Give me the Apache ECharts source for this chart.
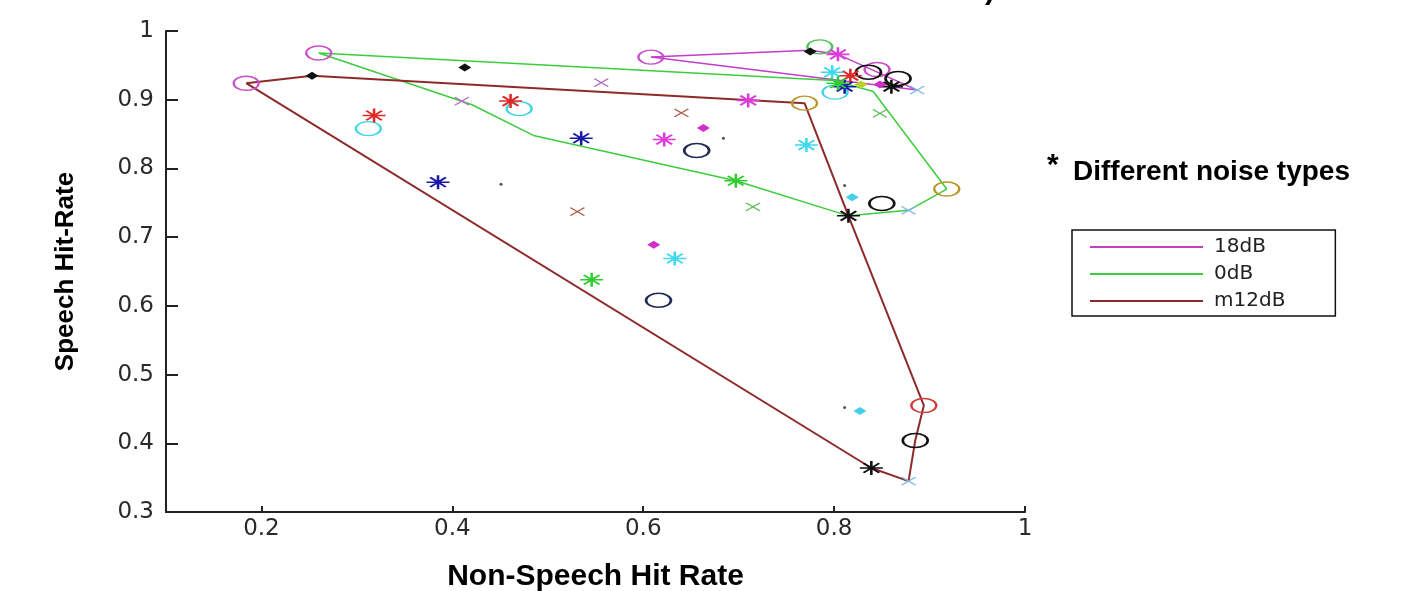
<!DOCTYPE html>
<html>
<head>
<meta charset="utf-8">
<script src="https://cdn.jsdelivr.net/npm/echarts@6/dist/echarts.min.js"></script>
<style>html,body{margin:0;padding:0;background:#fff}#c{width:1412px;height:591px}</style>
</head>
<body>
<div id="c"></div>
<script>
// ---- tick labels ----
const xTicks = [0.2, 0.4, 0.6, 0.8, 1];
const yTicks = [0.3, 0.4, 0.5, 0.6, 0.7, 0.8, 0.9, 1];

// ---- hull lines (series in legend) ----
const lineNames = ['18dB', '0dB', 'm12dB'];
const hull18dB = [[0.608,0.962],[0.775,0.972],[0.804,0.966],[0.887,0.914],[0.608,0.962]];
const hull0dB = [[0.26,0.968],[0.80,0.928],[0.841,0.912],[0.918,0.770],[0.878,0.739],[0.815,0.731],[0.697,0.782],[0.485,0.848],[0.42,0.893],[0.26,0.968]];
const hullM12dB = [[0.184,0.924],[0.253,0.935],[0.769,0.895],[0.815,0.731],[0.894,0.455],[0.885,0.404],[0.878,0.345],[0.839,0.364],[0.184,0.924]];

// ---- individual points (noise types) ----
const circMagenta = [[0.184,0.924],[0.26,0.968],[0.608,0.962],[0.845,0.944]];
const circCyan = [[0.312,0.858],[0.470,0.887],[0.801,0.911]];
const circNavy = [[0.656,0.826],[0.616,0.608]];
const circBlack = [[0.836,0.940],[0.867,0.931],[0.850,0.749],[0.885,0.404]];
const circOlive = [[0.769,0.895],[0.918,0.770]];
const circRed = [[0.894,0.455]];
const circGreen = [[0.785,0.977]];
const starRed = [[0.318,0.877],[0.461,0.898],[0.817,0.935]];
const starBlue = [[0.385,0.780],[0.535,0.844],[0.811,0.919]];
const starMagenta = [[0.622,0.842],[0.710,0.899],[0.804,0.966]];
const starCyan = [[0.633,0.669],[0.771,0.834],[0.798,0.940]];
const starGreen = [[0.546,0.638],[0.697,0.782],[0.804,0.924]];
const starBlack = [[0.815,0.731],[0.839,0.364],[0.860,0.919]];
const diaBlack = [[0.253,0.935],[0.413,0.947],[0.775,0.970]];
const diaMagenta = [[0.663,0.859],[0.611,0.689],[0.848,0.922]];
const diaCyan = [[0.819,0.758],[0.827,0.447]];
const diaYellow = [[0.828,0.922]];
const crossPurple = [[0.410,0.898],[0.556,0.925]];
const crossBrown = [[0.531,0.737],[0.640,0.881]];
const crossGreen = [[0.715,0.744],[0.848,0.880]];
const crossCyan = [[0.878,0.739],[0.878,0.345],[0.887,0.914]];
const dotsGray = [[0.451,0.777],[0.684,0.844],[0.811,0.775],[0.811,0.452]];

const ELLIPSE = 'path://M0,5 A5,5 0 1 1 10,5 A5,5 0 1 1 0,5 Z';
const STAR = 'path://M0,5L10,5M5,0L5,10M1.6,1.6L8.4,8.4M8.4,1.6L1.6,8.4';
const CROSS = 'path://M0,0L10,10M10,0L0,10';

function outline(name, data, sym, size, color, bw) {
  return {
    name: name, type: 'scatter', data: data, symbol: sym, symbolSize: size,
    symbolKeepAspect: false, z: 3, silent: true,
    itemStyle: { color: 'rgba(0,0,0,0)', borderColor: color, borderWidth: bw, opacity: 1 }
  };
}
function stroked(name, data, sym, size, color, bw) {
  return {
    name: name, type: 'scatter', data: data, symbol: sym, symbolSize: size,
    symbolKeepAspect: false, z: 3, silent: true,
    itemStyle: { color: color, borderColor: color, borderWidth: bw, opacity: 1 }
  };
}
function filled(name, data, sym, size, color) {
  return {
    name: name, type: 'scatter', data: data, symbol: sym, symbolSize: size,
    z: 3, silent: true, itemStyle: { color: color, opacity: 1 }
  };
}
function hull(name, data, color, w) {
  return {
    name: name, type: 'line', data: data, color: color, symbol: 'none', z: 2,
    lineStyle: { color: color, width: w }, silent: true, animation: false
  };
}

const CSZ = [25, 14], SSZ = [23, 14], XSZ = [14, 8], DSZ = [13, 8];

const chart = echarts.init(document.getElementById('c'), null, { renderer: 'canvas' });
chart.setOption({
  animation: false,
  backgroundColor: '#ffffff',
  grid: { left: 166, right: 387, top: 31, bottom: 79, containLabel: false, outerBoundsMode: 'none' },
  xAxis: {
    type: 'value', min: 0.1, max: 1,
    name: 'Non-Speech Hit Rate', nameLocation: 'middle', nameGap: 50,
    nameTextStyle: { fontFamily: 'Liberation Sans', fontWeight: 'bold', fontSize: 30, color: '#000' },
    axisLine: { show: true, onZero: false, lineStyle: { color: '#222', width: 2 } },
    axisTick: { show: true, inside: true, length: 6, customValues: xTicks, lineStyle: { color: '#222', width: 2 } },
    axisLabel: { customValues: xTicks, margin: 6, fontFamily: 'DejaVu Sans', fontSize: 23, color: '#2a2a2a',
      formatter: v => String(parseFloat(Number(v).toFixed(1))) },
    splitLine: { show: false }
  },
  yAxis: {
    type: 'value', min: yTicks[0], max: yTicks[yTicks.length - 1], interval: 0.1,
    name: 'Speech Hit-Rate', nameLocation: 'middle', nameGap: 87, nameRotate: 90,
    nameTextStyle: { fontFamily: 'Liberation Sans', fontWeight: 'bold', fontSize: 26, color: '#000' },
    axisLine: { show: true, onZero: false, lineStyle: { color: '#222', width: 2 } },
    axisTick: { show: true, inside: true, length: 12, lineStyle: { color: '#222', width: 2 } },
    axisLabel: { margin: 12, fontFamily: 'DejaVu Sans', fontSize: 23, color: '#2a2a2a',
      formatter: v => String(parseFloat(Number(v).toFixed(1))) },
    splitLine: { show: false }
  },
  legend: {
    data: lineNames, orient: 'vertical', left: 1072, top: 230,
    icon: 'rect', itemWidth: 113, itemHeight: 2, itemGap: 7,
    padding: [7, 50, 5, 18], borderColor: '#111', borderWidth: 1.5, backgroundColor: '#fff',
    selectedMode: false,
    textStyle: { fontFamily: 'DejaVu Sans', fontSize: 20, lineHeight: 20, color: '#222', padding: [0, 0, 0, 6] }
  },
  graphic: [
    { type: 'text', left: 1047, top: 151, style: { text: '*', font: 'bold 30px "Liberation Sans"', fill: '#000' } },
    { type: 'text', left: 1073, top: 158, style: { text: 'Different noise types', font: 'bold 28px "Liberation Sans"', fill: '#000' } },
    { type: 'text', left: 985, top: -24, style: { text: ')', font: 'bold 30px "Liberation Sans"', fill: '#000' } }
  ],
  series: [
    hull(lineNames[0], hull18dB, '#c43cc8', 1.5),
    hull(lineNames[1], hull0dB, '#3ccc3c', 1.5),
    hull(lineNames[2], hullM12dB, '#8e2a2a', 2),
    outline('o-m', circMagenta, ELLIPSE, CSZ, '#c850c8', 1.8),
    outline('o-c', circCyan, ELLIPSE, CSZ, '#40d4e4', 1.8),
    outline('o-n', circNavy, ELLIPSE, CSZ, '#202a55', 2),
    outline('o-k', circBlack, ELLIPSE, CSZ, '#111111', 2),
    outline('o-o', circOlive, ELLIPSE, CSZ, '#b8962a', 1.8),
    outline('o-r', circRed, ELLIPSE, CSZ, '#d03a3a', 1.8),
    outline('o-g', circGreen, ELLIPSE, CSZ, '#50c050', 1.8),
    stroked('*-r', starRed, STAR, SSZ, '#e02828', 2),
    stroked('*-b', starBlue, STAR, SSZ, '#1a1aa8', 2),
    stroked('*-m', starMagenta, STAR, SSZ, '#dc3cdc', 2),
    stroked('*-c', starCyan, STAR, SSZ, '#40d8ec', 2),
    stroked('*-g', starGreen, STAR, SSZ, '#30cc30', 2),
    stroked('*-k', starBlack, STAR, SSZ, '#111111', 2),
    filled('d-k', diaBlack, 'diamond', DSZ, '#111111'),
    filled('d-m', diaMagenta, 'diamond', DSZ, '#d030c8'),
    filled('d-c', diaCyan, 'diamond', DSZ, '#40d0e8'),
    filled('d-y', diaYellow, 'diamond', DSZ, '#b8d030'),
    stroked('x-p', crossPurple, CROSS, XSZ, '#b070c0', 1.4),
    stroked('x-b', crossBrown, CROSS, XSZ, '#b06050', 1.4),
    stroked('x-g', crossGreen, CROSS, XSZ, '#60c060', 1.4),
    stroked('x-c', crossCyan, CROSS, XSZ, '#80b8e8', 1.4),
    filled('dot', dotsGray, 'circle', 3, '#555555')
  ]
});
</script>
</body>
</html>
